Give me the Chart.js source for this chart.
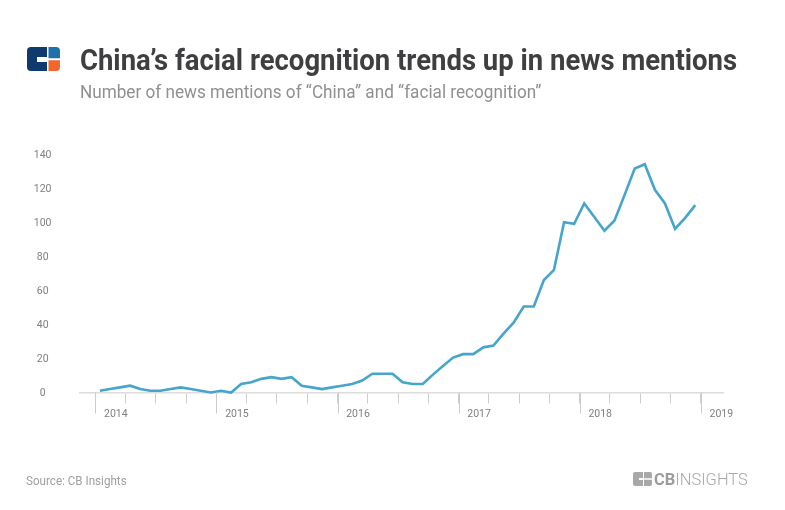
<!DOCTYPE html>
<html>
<head>
<meta charset="utf-8">
<title>China's facial recognition trends up in news mentions</title>
<script src="https://cdn.jsdelivr.net/npm/chart.js@4"></script>
<style>
  html, body { margin: 0; padding: 0; background: #fff; overflow: hidden; }
  #page { position: relative; width: 785px; height: 510px; font-family: Roboto, sans-serif; }
  #page canvas { position: absolute; left: 0; top: 0; }
  .txt { position: absolute; white-space: nowrap; transform-origin: left center; }
  #title { left: 80px; top: 42px; font-size: 30px; line-height: 36px; font-weight: 700; color: #3f3f41; transform: scaleX(0.916); }
  #subtitle { left: 80px; top: 80px; font-size: 18px; line-height: 24px; color: #909090; transform: scaleX(0.953); }
  #source { left: 26px; top: 473px; font-size: 12px; line-height: 16px; color: #a0a0a0; transform: scaleX(0.97); }
  #brand { left: 654px; top: 469px; font-size: 17px; line-height: 20px; color: #a8a8a8; font-weight: 300; transform: scaleX(0.97); }
  #brand b { font-weight: 700; color: #9c9c9c; }
  svg { position: absolute; }
</style>
</head>
<body>
<div id="page">
  <canvas id="trendChart" width="785" height="510"></canvas>
  <svg style="left:27px;top:47px" width="33" height="24" viewBox="0 0 33 24">
    <path d="M4 0H20V24H4Q0 24 0 20V4Q0 0 4 0Z" fill="#0f3a6e"/>
    <rect x="10" y="10" width="10" height="5" fill="#fff"/>
    <path d="M21.5 0H29Q33 0 33 4V11.2H21.5Z" fill="#1f70a8"/>
    <path d="M21.5 13.2H33V20Q33 24 29 24H21.5Z" fill="#f2672e"/>
  </svg>
  <svg style="left:633px;top:472px" width="19" height="14" viewBox="0 0 19 14">
    <path d="M2 0H10V14H2Q0 14 0 12V2Q0 0 2 0Z" fill="#a8a8a8"/>
    <rect x="6" y="6" width="4" height="2" fill="#fff"/>
    <path d="M11 0H17Q19 0 19 2V6.3H11Z" fill="#a8a8a8"/>
    <path d="M11 7.7H19V12Q19 14 17 14H11Z" fill="#a8a8a8"/>
  </svg>
  <div id="title" class="txt">China’s facial recognition trends up in news mentions</div>
  <div id="subtitle" class="txt">Number of news mentions of “China” and “facial recognition”</div>
  <div id="source" class="txt">Source: CB Insights</div>
  <div id="brand" class="txt"><b>CB</b>INSIGHTS</div>
</div>
<script>
// monthly mentions, Jan 2014 - Dec 2018
const mentions2014 = [1, 2, 3, 4, 2, 1, 1, 2, 3, 2, 1, 0];
const mentions2015 = [1, 0, 5, 6, 8, 9, 8, 9, 4, 3, 2, 3];
const mentions2016 = [4, 5, 7, 11, 11, 11, 6, 5, 5, 10.5, 15.5, 20.5];
const mentions2017 = [22.5, 22.5, 26.5, 27.5, 34.5, 41, 50.5, 50.5, 66, 72, 100, 99];
const mentions2018 = [111, 103, 95, 101, 116, 131.5, 134, 119, 111, 96, 102.5, 110];
const yearLabels = ["2014", "2015", "2016", "2017", "2018", "2019"];
const yTicks = [0, 20, 40, 60, 80, 100, 120, 140];

const mentions = [...mentions2014, ...mentions2015, ...mentions2016, ...mentions2017, ...mentions2018];
const points = mentions.map((v, i) => ({ x: i + 0.45, y: v }));

// year ticks hang lower than the quarter ticks
const longYearTicks = {
  id: "longYearTicks",
  afterDatasetsDraw(chart) {
    const scale = chart.scales.x;
    const ctx = chart.ctx;
    ctx.save();
    ctx.strokeStyle = "#cccccc";
    ctx.lineWidth = 1;
    yearLabels.forEach((_, i) => {
      const x = Math.round(scale.getPixelForValue(i * 12)) + 0.5;
      ctx.beginPath();
      ctx.moveTo(x, scale.top);
      ctx.lineTo(x, scale.top + 21);
      ctx.stroke();
    });
    ctx.restore();
  },
};

new Chart(document.getElementById("trendChart"), {
  type: "line",
  data: {
    datasets: [
      {
        label: "News mentions",
        data: points,
        borderColor: "#45a5cb",
        borderWidth: 2.6,
        pointRadius: 0,
        tension: 0,
        clip: false,
      },
    ],
  },
  plugins: [longYearTicks],
  options: {
    responsive: false,
    animation: false,
    layout: { padding: { top: 154, right: 62, left: 30, bottom: 0 } },
    plugins: { legend: { display: false }, tooltip: { enabled: false } },
    scales: {
      x: {
        type: "linear",
        min: -1.52,
        max: 62.2,
        afterFit(scale) { scale.height = 117.5; },
        afterBuildTicks(scale) {
          const list = [];
          for (let m = 0; m <= 60; m += 3) list.push({ value: m });
          scale.ticks = list;
        },
        border: { color: "#dcdcdc", width: 1.5 },
        grid: { drawOnChartArea: false, drawTicks: true, tickLength: 11, color: "#cccccc" },
        ticks: {
          autoSkip: false,
          maxRotation: 0,
          color: "#808080",
          font: { family: "Roboto", size: 10.5 },
          labelOffset: 20.5,
          padding: 5,
          callback(value) {
            return value % 12 === 0 ? yearLabels[value / 12] : "";
          },
        },
      },
      y: {
        min: 0,
        max: 140,
        afterFit(scale) { scale.width = 50; },
        afterBuildTicks(scale) { scale.ticks = yTicks.map((v) => ({ value: v })); },
        border: { display: false },
        grid: { display: false },
        ticks: {
          color: "#808080",
          font: { family: "Roboto", size: 10.5 },
          crossAlign: "center",
          padding: 20.5,
          labelOffset: 1,
        },
      },
    },
  },
});
</script>
</body>
</html>
